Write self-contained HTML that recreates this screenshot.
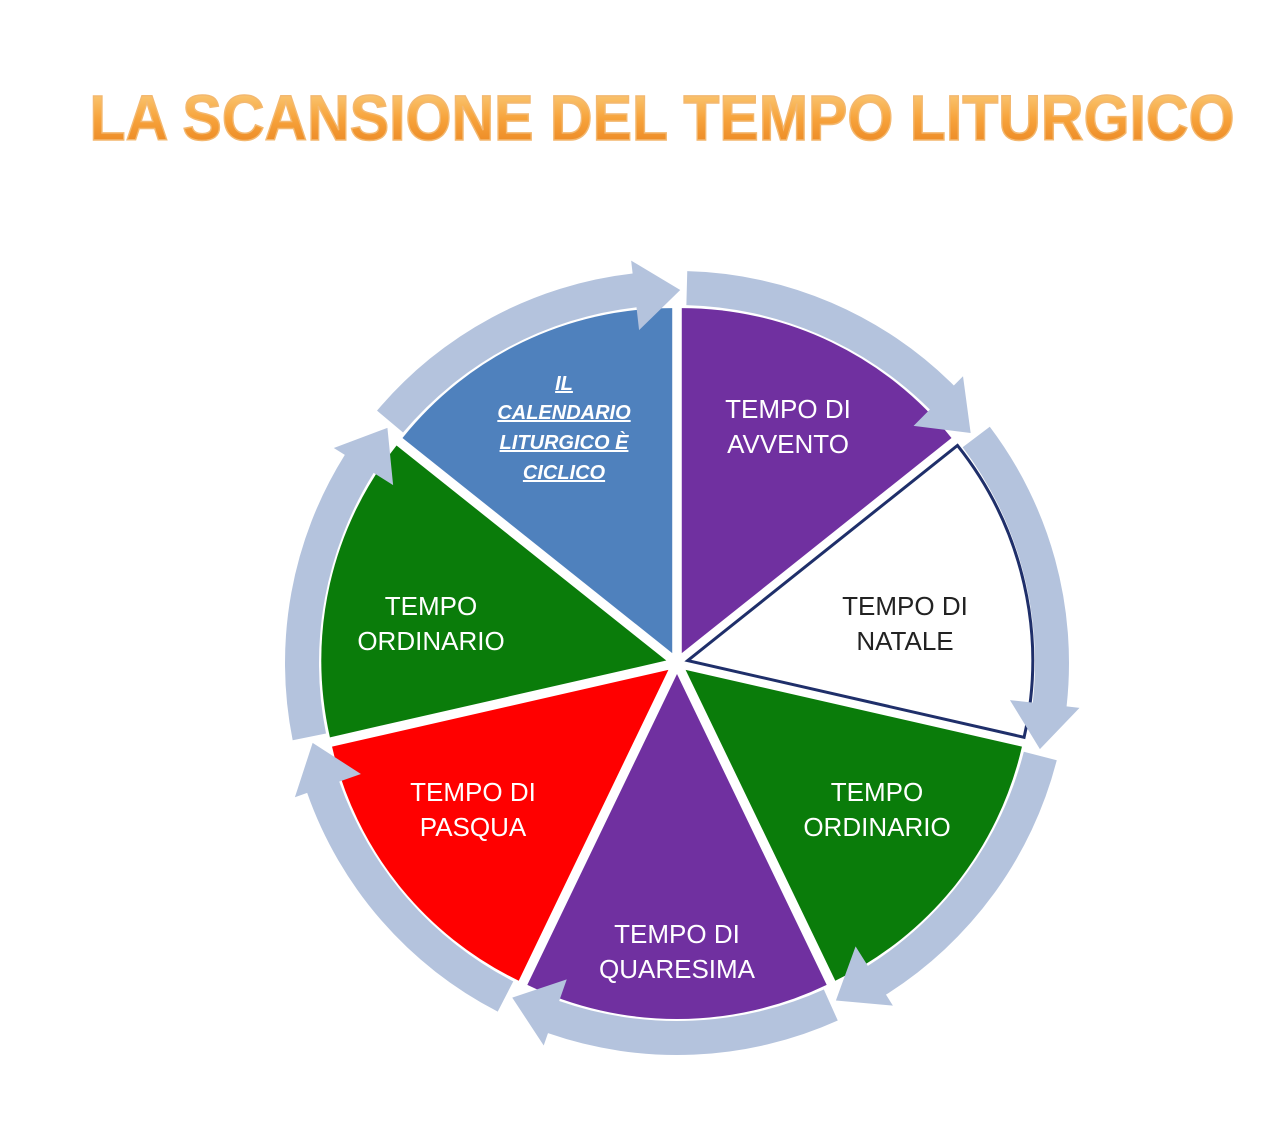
<!DOCTYPE html>
<html><head><meta charset="utf-8"><style>
html,body{margin:0;padding:0;background:#fff;}
svg{display:block;}
</style></head><body>
<svg id="s" width="1280" height="1123" viewBox="0 0 1280 1123" xmlns="http://www.w3.org/2000/svg">
<defs>
<linearGradient id="tg" x1="0" y1="0" x2="0" y2="1">
<stop offset="0" stop-color="#fbd58a"/><stop offset="0.5" stop-color="#f7a43c"/><stop offset="1" stop-color="#e8801c"/>
</linearGradient>
</defs>
<text x="662" y="140" text-anchor="middle" font-family="Liberation Sans, sans-serif" font-weight="bold" font-size="64" fill="url(#tg)" stroke="#f3b870" stroke-width="1.5" textLength="1145" lengthAdjust="spacingAndGlyphs">LA SCANSIONE DEL TEMPO LITURGICO</text>
<g id="wedges"></g>
<g id="arrows"></g>
<g font-family="Liberation Sans, sans-serif" font-size="26" text-anchor="middle" fill="#fff">
<text x="788" y="418">TEMPO DI</text><text x="788" y="453">AVVENTO</text>
<text x="905" y="615" fill="#222">TEMPO DI</text><text x="905" y="650" fill="#222">NATALE</text>
<text x="877" y="801">TEMPO</text><text x="877" y="836">ORDINARIO</text>
<text x="677" y="943">TEMPO DI</text><text x="677" y="978">QUARESIMA</text>
<text x="473" y="801">TEMPO DI</text><text x="473" y="836">PASQUA</text>
<text x="431" y="615">TEMPO</text><text x="431" y="650">ORDINARIO</text>
</g>
<g font-family="Liberation Sans, sans-serif" font-size="20" font-weight="bold" font-style="italic" text-anchor="middle" fill="#fff">
<text x="564" y="390" text-decoration="underline">IL</text>
<text x="564" y="419" text-decoration="underline">CALENDARIO</text>
<text x="564" y="449" text-decoration="underline">LITURGICO È</text>
<text x="564" y="479" text-decoration="underline">CICLICO</text>
</g>
</svg>
<script>
(function(){
var cx=677,cy=663,R=345,step=360/7,ns="http://www.w3.org/2000/svg";
var cols=["#7030a0","#ffffff","#0a7c0a","#7030a0","#ff0000","#0a7c0a","#4f81bd"];
function P(r,a){var t=a*Math.PI/180;return [cx+r*Math.cos(t),cy+r*Math.sin(t)];}
var W=document.getElementById("wedges"),A=document.getElementById("arrows");
for(var i=0;i<7;i++){
 var a0=-90+step*i,a1=a0+step,m=(a0+a1)/2,off=11;
 var ox=off*Math.cos(m*Math.PI/180),oy=off*Math.sin(m*Math.PI/180);
 var p0=P(R,a0),p1=P(R,a1);
 var d="M"+(cx+ox)+","+(cy+oy)+" L"+(p0[0]+ox)+","+(p0[1]+oy)+" A"+R+","+R+" 0 0 1 "+(p1[0]+ox)+","+(p1[1]+oy)+" Z";
 var e=document.createElementNS(ns,"path");e.setAttribute("d",d);e.setAttribute("fill",cols[i]);
 if(i==1){e.setAttribute("stroke","#1f2f6a");e.setAttribute("stroke-width","3");}
 W.appendChild(e);
 var s=a0+1.5,h=a1-6.5,t=a1+0.5,ri=358,ro=392,hi=335,ho=405,rm=373;
 var q1=P(ro,s),q2=P(ro,h),q3=P(ho,h),q4=P(rm,t),q5=P(hi,h),q6=P(ri,h),q7=P(ri,s);
 var ad="M"+q1+" A"+ro+","+ro+" 0 0 1 "+q2+" L"+q3+" L"+q4+" L"+q5+" L"+q6+" A"+ri+","+ri+" 0 0 0 "+q7+" Z";
 var f=document.createElementNS(ns,"path");f.setAttribute("d",ad);f.setAttribute("fill","#b4c3dd");
 A.appendChild(f);
}
})();
</script>
</body></html>
